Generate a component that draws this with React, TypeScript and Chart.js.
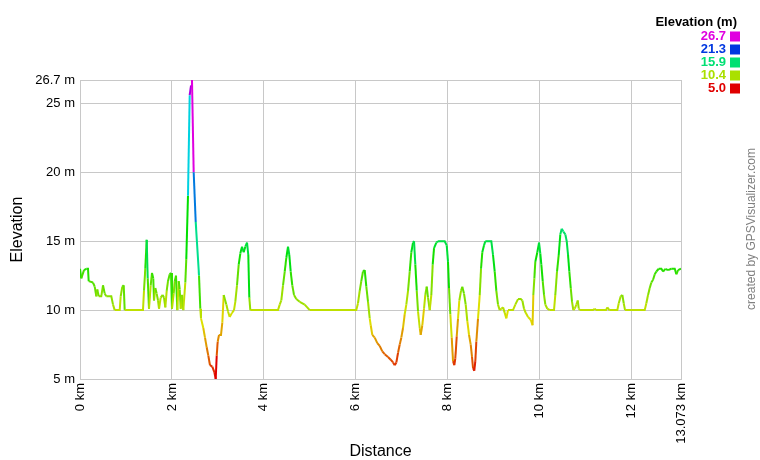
import React, { useEffect, useRef } from "react";
import { Chart, registerables } from "chart.js";

Chart.register(...registerables);

const distanceKm = [
  0.0, 0.028, 0.087, 0.137, 0.174, 0.189, 0.283, 0.32, 0.355, 0.376, 0.407, 0.463, 0.5, 0.537, 0.572,
  0.681, 0.718, 0.755, 0.864, 0.885, 0.92, 0.951, 0.972, 1.37, 1.392, 1.42, 1.451, 1.473, 1.501, 1.538,
  1.566, 1.594, 1.61, 1.638, 1.668, 1.697, 1.719, 1.755, 1.799, 1.827, 1.856, 1.886, 1.914, 1.951, 1.98,
  2.001, 2.038, 2.06, 2.088, 2.117, 2.147, 2.169, 2.191, 2.219, 2.247, 2.291, 2.312, 2.349, 2.386, 2.415,
  2.436, 2.473, 2.517, 2.589, 2.617, 2.632, 2.682, 2.719, 2.756, 2.791, 2.828, 2.878, 2.922, 2.952, 2.974,
  2.995, 3.024, 3.067, 3.096, 3.126, 3.183, 3.22, 3.256, 3.306, 3.35, 3.378, 3.415, 3.452, 3.487, 3.524,
  3.561, 3.596, 3.633, 3.661, 3.683, 3.705, 4.307, 4.344, 4.379, 4.416, 4.453, 4.488, 4.525, 4.553, 4.583,
  4.618, 4.655, 4.705, 4.779, 4.888, 4.997, 6.01, 6.047, 6.084, 6.119, 6.156, 6.193, 6.228, 6.265, 6.302,
  6.324, 6.358, 6.411, 6.467, 6.519, 6.576, 6.628, 6.7, 6.759, 6.809, 6.846, 6.881, 6.918, 6.955, 6.989,
  7.026, 7.063, 7.098, 7.135, 7.172, 7.207, 7.244, 7.266, 7.294, 7.325, 7.353, 7.39, 7.411, 7.446, 7.483,
  7.511, 7.542, 7.57, 7.607, 7.642, 7.672, 7.701, 7.751, 7.788, 7.933, 7.977, 8.005, 8.027, 8.055, 8.086,
  8.114, 8.142, 8.164, 8.195, 8.223, 8.251, 8.288, 8.316, 8.353, 8.39, 8.425, 8.462, 8.499, 8.527, 8.549,
  8.577, 8.599, 8.621, 8.658, 8.695, 8.723, 8.751, 8.788, 8.817, 8.947, 8.984, 9.021, 9.056, 9.093, 9.13,
  9.165, 9.202, 9.239, 9.274, 9.31, 9.419, 9.469, 9.528, 9.587, 9.622, 9.658, 9.695, 9.746, 9.804, 9.844,
  9.861, 9.883, 9.904, 9.948, 9.985, 10.013, 10.035, 10.065, 10.094, 10.122, 10.166, 10.218, 10.311, 10.339,
  10.376, 10.413, 10.448, 10.479, 10.513, 10.557, 10.587, 10.616, 10.644, 10.675, 10.703, 10.731, 10.762,
  10.797, 10.827, 10.849, 10.877, 11.16, 11.197, 11.225, 11.442, 11.471, 11.514, 11.688, 11.719, 11.762,
  11.797, 11.827, 11.856, 12.284, 12.319, 12.356, 12.393, 12.428, 12.465, 12.502, 12.537, 12.589, 12.646,
  12.683, 12.733, 12.791, 12.863, 12.937, 12.972, 13.009, 13.073,
];

const elevationM = [
  13.0, 12.3, 12.9, 13.0, 13.0, 12.1, 12.0, 11.7, 11.0, 11.5, 11.0, 11.0, 11.8, 11.2, 11.0,
  11.0, 10.4, 10.0, 10.0, 11.0, 11.7, 11.8, 10.0, 10.0, 11.4, 13.0, 15.1, 12.3, 10.1, 11.8,
  12.7, 12.3, 10.7, 11.6, 11.2, 10.7, 10.1, 10.9, 11.1, 10.9, 10.2, 11.4, 12.1, 12.6, 12.7,
  10.1, 11.2, 12.1, 12.5, 10.0, 12.1, 11.5, 10.1, 11.1, 10.0, 12.0, 13.7, 18.3, 25.6, 26.3,
  26.7, 20.0, 16.4, 12.5, 10.1, 9.4, 8.7, 8.0, 7.3, 6.7, 6.0, 5.9, 5.5, 5.0, 6.7,
  7.7, 8.2, 8.2, 9.1, 11.1, 10.4, 9.9, 9.5, 9.8, 10.0, 10.6, 11.8, 13.3, 14.1, 14.6,
  14.2, 14.6, 14.9, 14.0, 10.9, 10.0, 10.0, 10.4, 10.7, 11.8, 12.8, 13.8, 14.6, 14.0, 12.8,
  11.8, 11.1, 10.8, 10.6, 10.4, 10.0, 10.0, 10.5, 11.4, 12.1, 12.8, 12.9, 11.7, 10.6, 9.4,
  8.9, 8.2, 8.0, 7.6, 7.4, 7.0, 6.8, 6.6, 6.4, 6.2, 6.0, 6.2, 6.9, 7.5, 8.0,
  8.7, 9.7, 10.4, 11.4, 12.8, 14.2, 14.9, 15.0, 13.3, 11.4, 9.9, 8.7, 8.2, 8.9, 10.1,
  11.1, 11.7, 10.9, 10.0, 11.1, 13.3, 14.5, 14.9, 15.0, 15.0, 14.7, 13.5, 11.6, 9.7, 8.0,
  6.3, 6.0, 6.5, 8.1, 9.4, 10.7, 11.4, 11.7, 11.2, 10.4, 9.2, 8.2, 7.5, 6.6, 5.8,
  5.6, 6.3, 7.7, 9.4, 11.1, 13.0, 14.2, 14.7, 15.0, 15.0, 14.0, 12.8, 11.4, 10.4, 10.0,
  10.1, 10.2, 9.8, 9.4, 10.0, 10.0, 10.4, 10.8, 10.8, 10.7, 10.1, 9.8, 9.5, 9.3, 8.9,
  11.1, 12.3, 13.5, 14.2, 14.9, 14.1, 13.3, 12.1, 11.1, 10.4, 10.1, 10.0, 10.0, 11.1,
  12.8, 14.0, 15.5, 15.9, 15.7, 15.5, 15.0, 14.0, 12.8, 11.6, 10.6, 10.0, 10.1,
  10.4, 10.7, 10.1, 10.0, 10.0, 10.1, 10.0, 10.0, 10.2, 10.0, 10.0, 10.5, 11.0,
  11.1, 10.5, 10.0, 10.0, 10.5, 11.1, 11.6, 12.0, 12.2, 12.6, 12.8, 13.0, 13.0,
  12.8, 13.0, 12.9, 13.0, 13.0, 12.6, 12.9, 13.0,
];

const xTickKm = [0, 2, 4, 6, 8, 10, 12, 13.073];
const yTickM = [5, 10, 15, 20, 25, 26.7];
const legendValues = [26.7, 21.3, 15.9, 10.4, 5.0];
const elevMin = 5.0;
const elevMax = 26.7;

const FONT = '"Liberation Sans", Arial, sans-serif';

function elevColor(v: number): string {
  const t = Math.max(0, Math.min(1, (v - elevMin) / (elevMax - elevMin)));
  return `hsl(${t * 300}, 100%, 44%)`;
}

const overlayPlugin = {
  id: "overlay",
  afterDraw(chart: any) {
    const ctx = chart.ctx as CanvasRenderingContext2D;
    ctx.save();
    ctx.textBaseline = "middle";
    ctx.textAlign = "right";
    ctx.fillStyle = "#000";
    ctx.font = `bold 13px ${FONT}`;
    ctx.fillText("Elevation (m)", 737, 22);
    legendValues.forEach((v, i) => {
      const y = 36.5 + i * 13;
      ctx.fillStyle = elevColor(v);
      ctx.fillText(v.toFixed(1), 726, y);
      ctx.fillRect(730, y - 5, 10, 10);
    });
    ctx.translate(752, 229);
    ctx.rotate(-Math.PI / 2);
    ctx.textAlign = "center";
    ctx.fillStyle = "#808080";
    ctx.font = `12px ${FONT}`;
    ctx.fillText("created by GPSVisualizer.com", 0, 0);
    ctx.restore();
  },
};

export default function App() {
  const ref = useRef<HTMLCanvasElement | null>(null);
  useEffect(() => {
    document.body.style.margin = "0";
    const canvas = ref.current;
    if (!canvas) return;
    const points = distanceKm.map((x, i) => ({ x, y: elevationM[i] }));
    const chart = new Chart(canvas, {
      type: "line",
      data: {
        datasets: [
          {
            data: points,
            borderWidth: 2,
            pointRadius: 0,
            tension: 0,
            fill: false,
            borderColor: elevColor(10),
            segment: {
              borderColor: (c: any) => elevColor(c.p0.parsed.y),
            },
          },
        ],
      },
      options: {
        animation: false,
        responsive: false,
        devicePixelRatio: 1,
        layout: { padding: { top: 80, right: 79, left: 0, bottom: 0 } },
        plugins: { legend: { display: false }, tooltip: { enabled: false } },
        scales: {
          x: {
            type: "linear",
            min: 0,
            max: 13.073,
            afterFit: (s: any) => {
              s.height = 81;
            },
            afterBuildTicks: (s: any) => {
              s.ticks = xTickKm.map((v) => ({ value: v }));
            },
            grid: { color: "#c8c8c8", drawTicks: false, lineWidth: 1 },
            border: { color: "#c8c8c8" },
            ticks: {
              autoSkip: false,
              minRotation: 90,
              maxRotation: 90,
              padding: 4,
              color: "#000",
              font: { family: FONT, size: 13 },
              callback: (v: any) => `${v} km`,
            },
            title: {
              display: true,
              text: "Distance",
              color: "#000",
              font: { family: FONT, size: 16, lineHeight: 1 },
              padding: { top: 0, bottom: 0 },
            },
          },
          y: {
            type: "linear",
            min: elevMin,
            max: elevMax,
            afterFit: (s: any) => {
              s.width = 80;
            },
            afterBuildTicks: (s: any) => {
              s.ticks = yTickM.map((v) => ({ value: v }));
            },
            grid: { color: "#c8c8c8", drawTicks: false, lineWidth: 1 },
            border: { color: "#c8c8c8" },
            ticks: {
              autoSkip: false,
              padding: 5,
              color: "#000",
              font: { family: FONT, size: 13 },
              callback: (v: any) => `${v} m`,
            },
            title: {
              display: true,
              text: "Elevation",
              color: "#000",
              font: { family: FONT, size: 16, lineHeight: 1 },
              padding: { top: 10, bottom: 0 },
            },
          },
        },
      },
      plugins: [overlayPlugin],
    } as any);
    return () => chart.destroy();
  }, []);
  return (
    <div style={{ position: "absolute", left: 0, top: 0, width: 760, height: 460, background: "#fff" }}>
      <canvas ref={ref} width={760} height={460} style={{ display: "block", width: 760, height: 460 }} />
    </div>
  );
}
